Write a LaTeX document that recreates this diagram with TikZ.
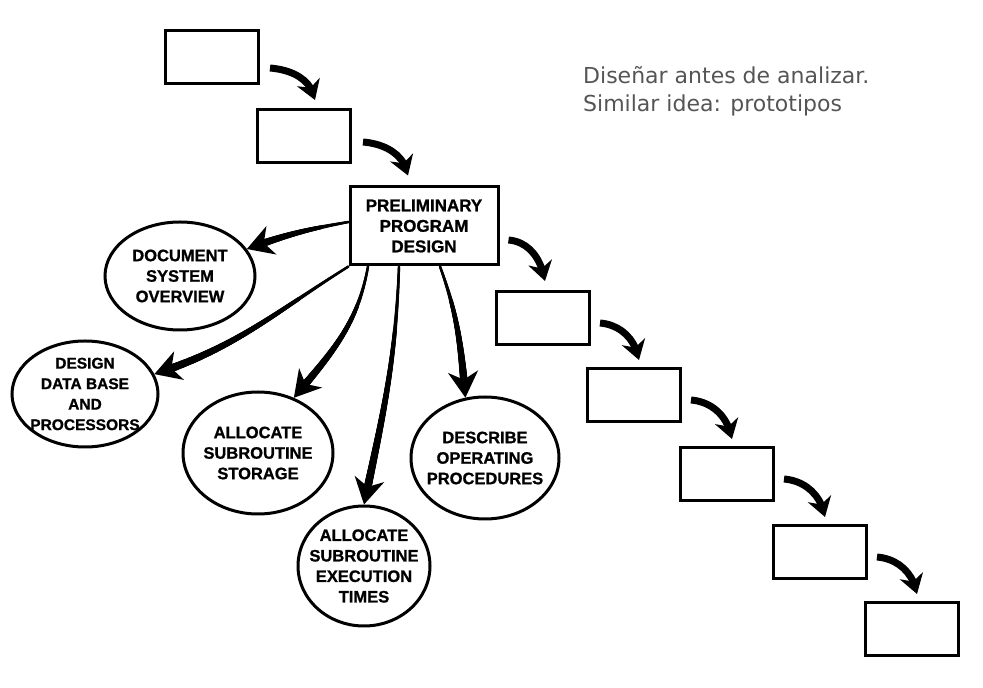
\documentclass[tikz,border=0pt]{standalone}
\usepackage{fontspec}
\usepackage{tikz}
\usetikzlibrary{arrows.meta,bending,shapes.geometric,decorations.markings}

\newfontfamily\boxfont{Liberation Sans}[BoldFeatures={FakeBold=1}]
\newfontfamily\notefont{DejaVu Sans}
\definecolor{notegray}{RGB}{85,85,85}

\begin{document}
\begin{tikzpicture}[x=1pt,y=1pt,
        stepbox/.style={draw,line width=3pt,minimum width=93pt,minimum height=53pt,inner sep=0pt},
        mainbox/.style={draw,line width=3pt,minimum width=148pt,minimum height=78pt,align=center,
          font=\boxfont\bfseries\fontsize{17}{20.5}\selectfont},
        task/.style={ellipse,draw,line width=3pt,inner xsep=-8pt,inner ysep=0pt,align=center,
          font=\boxfont\bfseries\fontsize{16.5}{20.5}\selectfont},
        stepflow/.style={-{Stealth[length=19pt,width=24pt,inset=6pt]},line width=7pt},
        taskflow/.style={-{Stealth[length=26pt,width=30pt,inset=8pt]},line width=2.4pt,
          postaction={decorate,decoration={markings,
            mark=between positions 0 and -18pt step 0.6pt with {
              \pgfmathsetmacro\rad{1.2+3*\pgfkeysvalueof{/pgf/decoration/mark info/distance from start}/\pgfdecoratedpathlength}
              \fill (0,0) circle (\rad pt);}}}}]

  \useasboundingbox (0,0) rectangle (983,688);

  % waterfall boxes
  \node[stepbox] (b1) at (212,631) {};
  \node[stepbox] (b2) at (304,552) {};
  \node[mainbox] (main) at (424,462) {PRELIMINARY\\PROGRAM\\DESIGN};
  \node[stepbox] (b3) at (543,370) {};
  \node[stepbox] (b4) at (634,293) {};
  \node[stepbox] (b5) at (727,214) {};
  \node[stepbox] (b6) at (820,136) {};
  \node[stepbox] (b7) at (912,59) {};

  % design tasks
  \node[task,minimum width=150pt,minimum height=108pt] (doc) at (180,412) {DOCUMENT\\SYSTEM\\OVERVIEW};
  \node[task,minimum width=146pt,minimum height=106pt,font=\boxfont\bfseries\fontsize{15.5}{20.5}\selectfont]
    (db) at (85,294) {DESIGN\\DATA BASE\\AND\\PROCESSORS};
  \node[task,minimum width=150pt,minimum height=122pt] (storage) at (258,235) {ALLOCATE\\SUBROUTINE\\STORAGE};
  \node[task,minimum width=132pt,minimum height=120pt] (exec) at (364,122) {ALLOCATE\\SUBROUTINE\\EXECUTION\\TIMES};
  \node[task,minimum width=148pt,minimum height=122pt] (desc) at (485,230) {DESCRIBE\\OPERATING\\PROCEDURES};

  \node[anchor=north west,inner sep=0pt,align=left,text=notegray,
        font=\notefont\fontsize{22}{28}\selectfont] (note) at (583,622)
        {Diseñar antes de analizar.\\Similar idea: prototipos};

  % steps
  \draw[stepflow] ([shift={(10pt,-11pt)}]b1.east) to[out=-5,in=100] ([shift={(11pt,8pt)}]b2.north);
  \draw[stepflow] ([shift={(11pt,-6pt)}]b2.east) to[out=-5,in=100] ([shift={(-16pt,10pt)}]main.north);
  \draw[stepflow] ([shift={(9pt,-14pt)}]main.east) to[out=-5,in=100] ([shift={(2pt,9pt)}]b3.north);
  \foreach \a/\b in {b3/b4,b4/b5,b5/b6,b6/b7}
    \draw[stepflow] ([shift={(9pt,-5pt)}]\a.east) to[out=-5,in=100] ([shift={(5pt,7pt)}]\b.north);

  % tasks
  \draw[taskflow] ([yshift=4pt]main.west) to[out=190,in=20] (doc.22);
  \draw[taskflow] (main.south west) to[out=212,in=18] (db.16);
  \draw[taskflow] ([xshift=-56pt]main.south) to[out=260,in=50] (storage.57);
  \draw[taskflow] ([xshift=-25pt]main.south) to[out=268,in=78] (exec.north);
  \draw[taskflow] ([xshift=16pt]main.south) to[out=290,in=95] (desc.108);

\end{tikzpicture}
\end{document}
